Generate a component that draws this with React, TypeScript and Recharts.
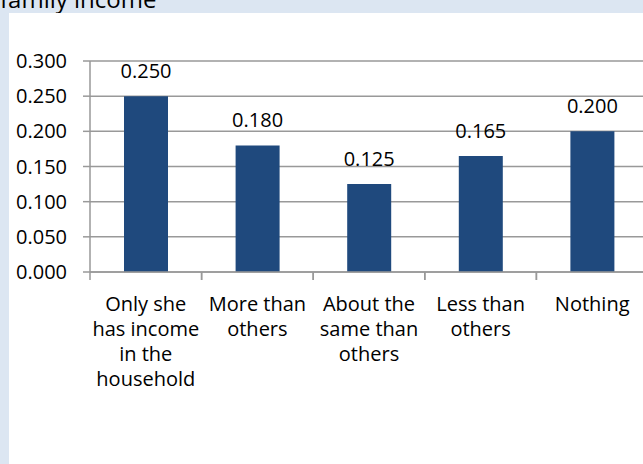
import React from 'react';
import { BarChart, Bar, XAxis, YAxis, CartesianGrid, LabelList } from 'recharts';

const categories = [
  'Only she\nhas income\nin the\nhousehold',
  'More than\nothers',
  'About the\nsame than\nothers',
  'Less than\nothers',
  'Nothing',
];
const values = [0.25, 0.18, 0.125, 0.165, 0.2];
const yTicks = [0, 0.05, 0.1, 0.15, 0.2, 0.25, 0.3];

const data = categories.map((name, i) => ({ name, value: values[i] }));

const FONT = '"Open Sans", sans-serif';
const GRID = '#999999';
const CHART_W = 660;
const PLOT_LEFT = 90;
const MARGIN_RIGHT = 12;
const BAND = (CHART_W - PLOT_LEFT - MARGIN_RIGHT) / categories.length;

function XTick(props: any) {
  const { x, y, payload } = props;
  const lines = String(payload.value).split('\n');
  const half = BAND / 2;
  return (
    <g>
      <line x1={x - half} x2={x - half} y1={y} y2={y + 8} stroke={GRID} strokeWidth={1.5} />
      <line x1={x + half} x2={x + half} y1={y} y2={y + 8} stroke={GRID} strokeWidth={1.5} />
      {lines.map((ln, i) => (
        <text
          key={i}
          x={x}
          y={y + 39 + i * 25}
          textAnchor="middle"
          fontFamily={FONT}
          fontSize={20}
          fill="#000"
        >
          {ln}
        </text>
      ))}
    </g>
  );
}

export default function App() {
  return (
    <div
      style={{
        position: 'fixed',
        left: 0,
        top: 0,
        width: 643,
        height: 464,
        overflow: 'hidden',
        background: '#dce6f2',
      }}
    >
      <svg width={643} height={20} style={{ position: 'absolute', left: 0, top: 0 }}>
        <text x={0} y={8} fontFamily={FONT} fontSize={24} fill="#000">
          family income
        </text>
      </svg>
      <div
        style={{
          position: 'absolute',
          left: 9,
          top: 13,
          width: 700,
          height: 460,
          background: '#ffffff',
        }}
      />
      <div style={{ position: 'absolute', left: 0, top: 0 }}>
        <BarChart
          width={CHART_W}
          height={464}
          data={data}
          margin={{ top: 61, right: MARGIN_RIGHT, bottom: 0, left: 0 }}
        >
          <CartesianGrid vertical={false} stroke={GRID} strokeWidth={1.5} />
          <YAxis
            width={PLOT_LEFT}
            domain={[0, 0.3]}
            ticks={yTicks}
            interval={0}
            tickFormatter={(v: number) => v.toFixed(3)}
            tickSize={7}
            tickMargin={16}
            axisLine={{ stroke: GRID, strokeWidth: 1.5 }}
            tickLine={{ stroke: GRID, strokeWidth: 1.5 }}
            tick={{ fill: '#000', fontSize: 20, fontFamily: FONT }}
          />
          <XAxis
            dataKey="name"
            height={192}
            interval={0}
            tickSize={0}
            tickMargin={0}
            tickLine={false}
            axisLine={{ stroke: GRID, strokeWidth: 1.5 }}
            tick={<XTick />}
          />
          <Bar dataKey="value" fill="#1f497d" barSize={44} isAnimationActive={false}>
            <LabelList
              dataKey="value"
              position="top"
              offset={18}
              formatter={(v: any) => Number(v).toFixed(3)}
              fill="#000"
              fontSize={20}
              fontFamily={FONT}
            />
          </Bar>
        </BarChart>
      </div>
    </div>
  );
}
